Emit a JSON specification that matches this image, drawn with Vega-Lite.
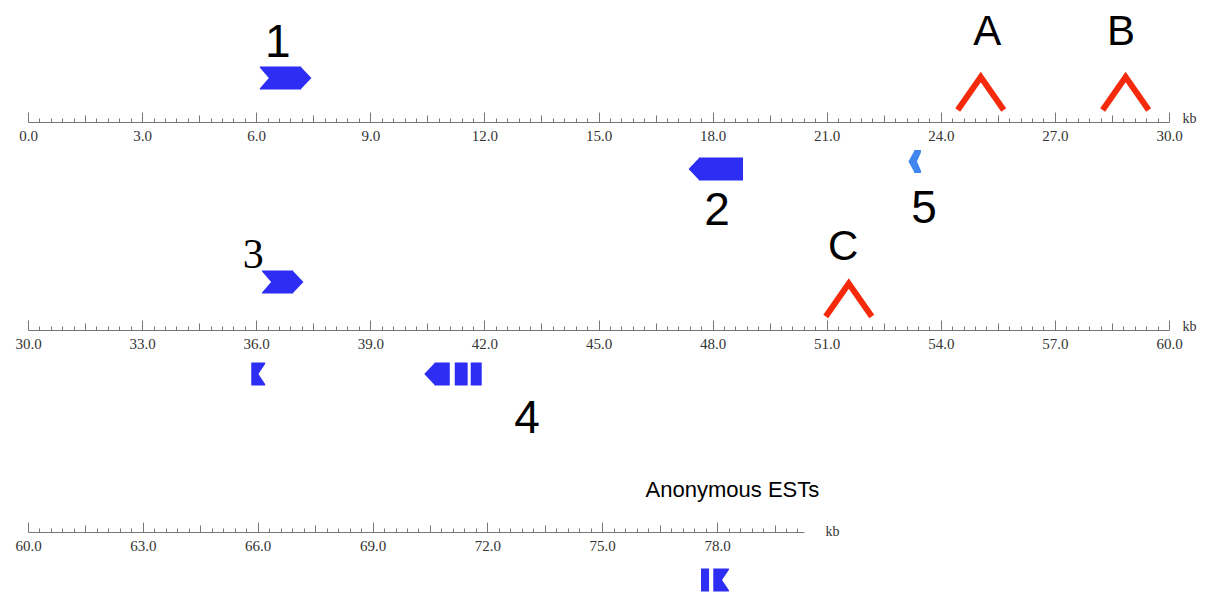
{
  "$schema": "https://vega.github.io/schema/vega-lite/v6.json",
  "background": "white",
  "padding": {"left": 14, "top": 0, "right": 5, "bottom": 0},
  "spacing": 10,
  "bounds": "flush",
  "config": {"view": {"stroke": null}, "font": "Liberation Sans"},
  "resolve": {"scale": {"x": "independent", "y": "independent", "color": "shared"}},
  "datasets": {
    "genes": [
      {"row": 1, "start": 6.09, "end": 7.18, "level": 44, "head": "right", "notch": "left", "kind": "gene"},
      {"row": 1, "start": 17.64, "end": 18.8, "level": -47, "head": "left", "notch": "none", "kind": "gene"},
      {"row": 1, "start": 23.3, "end": 23.48, "level": -39.5, "head": "left", "notch": "right", "kind": "partial"},
      {"row": 2, "start": 36.15, "end": 36.97, "level": 48, "head": "right", "notch": "left", "kind": "gene"},
      {"row": 2, "start": 35.87, "end": 36.24, "level": -44, "head": "none", "notch": "right", "kind": "gene"},
      {"row": 2, "start": 40.69, "end": 41.09, "level": -44, "head": "left", "notch": "none", "kind": "gene"},
      {"row": 2, "start": 41.22, "end": 41.56, "level": -44, "head": "none", "notch": "none", "kind": "gene"},
      {"row": 2, "start": 41.64, "end": 41.93, "level": -44, "head": "none", "notch": "none", "kind": "gene"},
      {"row": 3, "start": 77.58, "end": 77.79, "level": -48, "head": "none", "notch": "none", "kind": "gene"},
      {"row": 3, "start": 77.9, "end": 78.31, "level": -48, "head": "none", "notch": "right", "kind": "gene"}
    ],
    "sites": [
      {"row": 1, "pos": 25.05, "level": 28.5, "name": "A"},
      {"row": 1, "pos": 28.86, "level": 28.5, "name": "B"},
      {"row": 2, "pos": 51.58, "level": 30, "name": "C"}
    ],
    "labels": [
      {"row": 1, "pos": 6.57, "level": 65, "text": "1", "group": "gene"},
      {"row": 1, "pos": 25.22, "level": 77, "text": "A", "group": "site"},
      {"row": 1, "pos": 28.74, "level": 77, "text": "B", "group": "site"},
      {"row": 1, "pos": 18.12, "level": -103, "text": "2", "group": "gene"},
      {"row": 1, "pos": 23.56, "level": -101, "text": "5", "group": "gene"},
      {"row": 2, "pos": 51.43, "level": 70, "text": "C", "group": "site"},
      {"row": 2, "pos": 35.92, "level": 62, "text": "3", "group": "gene"},
      {"row": 2, "pos": 43.12, "level": -103, "text": "4", "group": "gene"},
      {"row": 3, "pos": 78.4, "level": 35, "text": "Anonymous ESTs", "group": "note"}
    ]
  },
  "vconcat": [
    {
      "width": 1141, "height": 122,
      "layer": [
        {"data": {"name": "genes"}, "transform": [{"filter": "datum.row === 1"}],
         "mark": {"type": "rect", "yOffset": -11.5, "y2Offset": 11.5},
         "encoding": {
           "x": {"field": "start", "type": "quantitative", "title": "kb",
                 "scale": {"domain": [0, 30], "nice": false, "zero": false},
                 "axis": {
                   "values": [0,0.3,0.6,0.9,1.2,1.5,1.8,2.1,2.4,2.7,3,3.3,3.6,3.9,4.2,4.5,4.8,5.1,5.4,5.7,6,6.3,6.6,6.9,7.2,7.5,7.8,8.1,8.4,8.7,9,9.3,9.6,9.9,10.2,10.5,10.8,11.1,11.4,11.7,12,12.3,12.6,12.9,13.2,13.5,13.8,14.1,14.4,14.7,15,15.3,15.6,15.9,16.2,16.5,16.8,17.1,17.4,17.7,18,18.3,18.6,18.9,19.2,19.5,19.8,20.1,20.4,20.7,21,21.3,21.6,21.9,22.2,22.5,22.8,23.1,23.4,23.7,24,24.3,24.6,24.9,25.2,25.5,25.8,26.1,26.4,26.7,27,27.3,27.6,27.9,28.2,28.5,28.8,29.1,29.4,29.7,30],
                   "tickCount": 500,
                   "title": "kb", "titleX": 1161, "titleY": 0, "titleAlign": "center", "titleBaseline": "alphabetic",
                   "titleFont": "Liberation Serif", "titleFontSize": 14, "titleFontWeight": "normal", "titleColor": "#333",
                   "domainColor": "#777", "domainWidth": 1, "tickColor": "#777", "tickWidth": 1, "grid": false,
                   "tickSize": {"condition": [{"test": "abs(datum.value/3 - round(datum.value/3)) < 0.001", "value": -10}, {"test": "abs(datum.value/1.5 - round(datum.value/1.5)) < 0.001", "value": -7}], "value": -4},
                   "labelExpr": "abs(datum.value/3 - round(datum.value/3)) < 0.001 ? format(datum.value, '.1f') : ''",
                   "labelFont": "Liberation Serif", "labelFontSize": 15, "labelColor": "#333", "labelPadding": 16,
                   "labelFlush": false, "labelOverlap": false, "labelBound": false
                 }},
           "x2": {"field": "end"},
           "y": {"field": "level", "type": "quantitative", "scale": {"domain": [0, 122], "nice": false, "zero": false}, "axis": null},
           "y2": {"field": "level"},
           "color": {"field": "kind", "type": "nominal", "scale": {"domain": ["gene", "partial"], "range": ["#2d2df4", "#3f86f0"]}, "legend": null}
         }},
        {"data": {"name": "genes"}, "transform": [{"filter": "datum.row === 1 && datum.head === 'right' && datum.kind === 'gene'"}],
         "mark": {"type": "point", "shape": "M-0.05,-1L0.9,0L-0.05,1Z", "size": 529, "filled": true, "opacity": 1, "strokeWidth": 0},
         "encoding": {"x": {"field": "end", "type": "quantitative", "title": "kb"}, "y": {"field": "level", "type": "quantitative"},
                      "color": {"field": "kind", "type": "nominal", "legend": null}}},
        {"data": {"name": "genes"}, "transform": [{"filter": "datum.row === 1 && datum.head === 'left' && datum.kind === 'gene'"}],
         "mark": {"type": "point", "shape": "M0.05,-1L-0.9,0L0.05,1Z", "size": 529, "filled": true, "opacity": 1, "strokeWidth": 0},
         "encoding": {"x": {"field": "start", "type": "quantitative", "title": "kb"}, "y": {"field": "level", "type": "quantitative"},
                      "color": {"field": "kind", "type": "nominal", "legend": null}}},
        {"data": {"name": "genes"}, "transform": [{"filter": "datum.row === 1 && datum.head === 'left' && datum.kind === 'partial'"}],
         "mark": {"type": "point", "shape": "M0.05,-1L-0.5,0L0.05,1Z", "size": 529, "filled": true, "opacity": 1, "strokeWidth": 0},
         "encoding": {"x": {"field": "start", "type": "quantitative", "title": "kb"}, "y": {"field": "level", "type": "quantitative"},
                      "color": {"field": "kind", "type": "nominal", "legend": null}}},
        {"data": {"name": "genes"}, "transform": [{"filter": "datum.row === 1 && datum.notch === 'left' && datum.kind === 'gene'"}],
         "mark": {"type": "point", "shape": "M-0.1,-1.05L0.8,0L-0.1,1.05Z", "size": 529, "filled": true, "opacity": 1, "strokeWidth": 0, "color": "white"},
         "encoding": {"x": {"field": "start", "type": "quantitative", "title": "kb"}, "y": {"field": "level", "type": "quantitative"}}},
        {"data": {"name": "genes"}, "transform": [{"filter": "datum.row === 1 && datum.notch === 'right' && datum.kind === 'partial'"}],
         "mark": {"type": "point", "shape": "M0.1,-1.05L-0.35,0L0.1,1.05Z", "size": 529, "filled": true, "opacity": 1, "strokeWidth": 0, "color": "white"},
         "encoding": {"x": {"field": "end", "type": "quantitative", "title": "kb"}, "y": {"field": "level", "type": "quantitative"}}},
        {"data": {"name": "sites"}, "transform": [{"filter": "datum.row === 1"}],
         "mark": {"type": "point", "shape": "M-1,0.72L0,-0.72L1,0.72", "size": 2116, "filled": false, "stroke": "#f52a0c", "strokeWidth": 6, "opacity": 1, "strokeCap": "butt", "strokeJoin": "miter"},
         "encoding": {"x": {"field": "pos", "type": "quantitative", "title": "kb"}, "y": {"field": "level", "type": "quantitative"}}},
        {"data": {"name": "labels"}, "transform": [{"filter": "datum.row === 1 && datum.group === 'site'"}],
         "mark": {"type": "text", "font": "Liberation Sans", "fontSize": 42, "baseline": "alphabetic", "align": "center", "color": "black"},
         "encoding": {"x": {"field": "pos", "type": "quantitative", "title": "kb"}, "y": {"field": "level", "type": "quantitative"},
                      "text": {"field": "text"}}},
        {"data": {"name": "labels"}, "transform": [{"filter": "datum.row === 1 && datum.group === 'gene'"}],
         "mark": {"type": "text", "font": "Liberation Sans", "fontSize": 46, "baseline": "alphabetic", "align": "center", "color": "black"},
         "encoding": {"x": {"field": "pos", "type": "quantitative", "title": "kb"}, "y": {"field": "level", "type": "quantitative"},
                      "text": {"field": "text"}}}
      ]
    },
    {
      "width": 1141, "height": 198,
      "layer": [
        {"data": {"name": "genes"}, "transform": [{"filter": "datum.row === 2"}],
         "mark": {"type": "rect", "yOffset": -11.5, "y2Offset": 11.5},
         "encoding": {
           "x": {"field": "start", "type": "quantitative", "title": "kb",
                 "scale": {"domain": [30, 60], "nice": false, "zero": false},
                 "axis": {
                   "values": [30,30.3,30.6,30.9,31.2,31.5,31.8,32.1,32.4,32.7,33,33.3,33.6,33.9,34.2,34.5,34.8,35.1,35.4,35.7,36,36.3,36.6,36.9,37.2,37.5,37.8,38.1,38.4,38.7,39,39.3,39.6,39.9,40.2,40.5,40.8,41.1,41.4,41.7,42,42.3,42.6,42.9,43.2,43.5,43.8,44.1,44.4,44.7,45,45.3,45.6,45.9,46.2,46.5,46.8,47.1,47.4,47.7,48,48.3,48.6,48.9,49.2,49.5,49.8,50.1,50.4,50.7,51,51.3,51.6,51.9,52.2,52.5,52.8,53.1,53.4,53.7,54,54.3,54.6,54.9,55.2,55.5,55.8,56.1,56.4,56.7,57,57.3,57.6,57.9,58.2,58.5,58.8,59.1,59.4,59.7,60],
                   "tickCount": 500,
                   "title": "kb", "titleX": 1161, "titleY": 0, "titleAlign": "center", "titleBaseline": "alphabetic",
                   "titleFont": "Liberation Serif", "titleFontSize": 14, "titleFontWeight": "normal", "titleColor": "#333",
                   "domainColor": "#777", "domainWidth": 1, "tickColor": "#777", "tickWidth": 1, "grid": false,
                   "tickSize": {"condition": [{"test": "abs(datum.value/3 - round(datum.value/3)) < 0.001", "value": -10}, {"test": "abs(datum.value/1.5 - round(datum.value/1.5)) < 0.001", "value": -7}], "value": -4},
                   "labelExpr": "abs(datum.value/3 - round(datum.value/3)) < 0.001 ? format(datum.value, '.1f') : ''",
                   "labelFont": "Liberation Serif", "labelFontSize": 15, "labelColor": "#333", "labelPadding": 16,
                   "labelFlush": false, "labelOverlap": false, "labelBound": false
                 }},
           "x2": {"field": "end"},
           "y": {"field": "level", "type": "quantitative", "scale": {"domain": [0, 198], "nice": false, "zero": false}, "axis": null},
           "y2": {"field": "level"},
           "color": {"field": "kind", "type": "nominal", "scale": {"domain": ["gene", "partial"], "range": ["#2d2df4", "#3f86f0"]}, "legend": null}
         }},
        {"data": {"name": "genes"}, "transform": [{"filter": "datum.row === 2 && datum.head === 'right'"}],
         "mark": {"type": "point", "shape": "M-0.05,-1L0.9,0L-0.05,1Z", "size": 529, "filled": true, "opacity": 1, "strokeWidth": 0},
         "encoding": {"x": {"field": "end", "type": "quantitative", "title": "kb"}, "y": {"field": "level", "type": "quantitative"},
                      "color": {"field": "kind", "type": "nominal", "legend": null}}},
        {"data": {"name": "genes"}, "transform": [{"filter": "datum.row === 2 && datum.head === 'left'"}],
         "mark": {"type": "point", "shape": "M0.05,-1L-0.9,0L0.05,1Z", "size": 529, "filled": true, "opacity": 1, "strokeWidth": 0},
         "encoding": {"x": {"field": "start", "type": "quantitative", "title": "kb"}, "y": {"field": "level", "type": "quantitative"},
                      "color": {"field": "kind", "type": "nominal", "legend": null}}},
        {"data": {"name": "genes"}, "transform": [{"filter": "datum.row === 2 && datum.notch === 'left'"}],
         "mark": {"type": "point", "shape": "M-0.1,-1.05L0.8,0L-0.1,1.05Z", "size": 529, "filled": true, "opacity": 1, "strokeWidth": 0, "color": "white"},
         "encoding": {"x": {"field": "start", "type": "quantitative", "title": "kb"}, "y": {"field": "level", "type": "quantitative"}}},
        {"data": {"name": "genes"}, "transform": [{"filter": "datum.row === 2 && datum.notch === 'right'"}],
         "mark": {"type": "point", "shape": "M0.1,-1.05L-0.6,0L0.1,1.05Z", "size": 529, "filled": true, "opacity": 1, "strokeWidth": 0, "color": "white"},
         "encoding": {"x": {"field": "end", "type": "quantitative", "title": "kb"}, "y": {"field": "level", "type": "quantitative"}}},
        {"data": {"name": "sites"}, "transform": [{"filter": "datum.row === 2"}],
         "mark": {"type": "point", "shape": "M-1,0.72L0,-0.72L1,0.72", "size": 2116, "filled": false, "stroke": "#f52a0c", "strokeWidth": 6, "opacity": 1, "strokeCap": "butt", "strokeJoin": "miter"},
         "encoding": {"x": {"field": "pos", "type": "quantitative", "title": "kb"}, "y": {"field": "level", "type": "quantitative"}}},
        {"data": {"name": "labels"}, "transform": [{"filter": "datum.row === 2 && datum.group === 'site'"}],
         "mark": {"type": "text", "font": "Liberation Sans", "fontSize": 42, "baseline": "alphabetic", "align": "center", "color": "black"},
         "encoding": {"x": {"field": "pos", "type": "quantitative", "title": "kb"}, "y": {"field": "level", "type": "quantitative"},
                      "text": {"field": "text"}}},
        {"data": {"name": "labels"}, "transform": [{"filter": "datum.row === 2 && datum.group === 'gene' && datum.text !== '3'"}],
         "mark": {"type": "text", "font": "Liberation Sans", "fontSize": 46, "baseline": "alphabetic", "align": "center", "color": "black"},
         "encoding": {"x": {"field": "pos", "type": "quantitative", "title": "kb"}, "y": {"field": "level", "type": "quantitative"},
                      "text": {"field": "text"}}},
        {"data": {"name": "labels"}, "transform": [{"filter": "datum.row === 2 && datum.text === '3'"}],
         "mark": {"type": "text", "font": "Liberation Serif", "fontSize": 42, "baseline": "alphabetic", "align": "center", "color": "black"},
         "encoding": {"x": {"field": "pos", "type": "quantitative", "title": "kb"}, "y": {"field": "level", "type": "quantitative"},
                      "text": {"field": "text"}}}
      ]
    },
    {
      "width": 776, "height": 192,
      "layer": [
        {"data": {"name": "genes"}, "transform": [{"filter": "datum.row === 3"}],
         "mark": {"type": "rect", "yOffset": -11.5, "y2Offset": 11.5},
         "encoding": {
           "x": {"field": "start", "type": "quantitative", "title": "kb",
                 "scale": {"domain": [60, 80.27], "nice": false, "zero": false},
                 "axis": {
                   "values": [60,60.3,60.6,60.9,61.2,61.5,61.8,62.1,62.4,62.7,63,63.3,63.6,63.9,64.2,64.5,64.8,65.1,65.4,65.7,66,66.3,66.6,66.9,67.2,67.5,67.8,68.1,68.4,68.7,69,69.3,69.6,69.9,70.2,70.5,70.8,71.1,71.4,71.7,72,72.3,72.6,72.9,73.2,73.5,73.8,74.1,74.4,74.7,75,75.3,75.6,75.9,76.2,76.5,76.8,77.1,77.4,77.7,78,78.3,78.6,78.9,79.2,79.5,79.8,80.1],
                   "tickCount": 500,
                   "title": "kb", "titleX": 804, "titleY": 3, "titleAlign": "center", "titleBaseline": "alphabetic",
                   "titleFont": "Liberation Serif", "titleFontSize": 14, "titleFontWeight": "normal", "titleColor": "#333",
                   "domainColor": "#777", "domainWidth": 1, "tickColor": "#777", "tickWidth": 1, "grid": false,
                   "tickSize": {"condition": [{"test": "abs(datum.value/3 - round(datum.value/3)) < 0.001", "value": -10}, {"test": "abs(datum.value/1.5 - round(datum.value/1.5)) < 0.001", "value": -7}], "value": -4},
                   "labelExpr": "abs(datum.value/3 - round(datum.value/3)) < 0.001 ? format(datum.value, '.1f') : ''",
                   "labelFont": "Liberation Serif", "labelFontSize": 15, "labelColor": "#333", "labelPadding": 16,
                   "labelFlush": false, "labelOverlap": false, "labelBound": false
                 }},
           "x2": {"field": "end"},
           "y": {"field": "level", "type": "quantitative", "scale": {"domain": [0, 192], "nice": false, "zero": false}, "axis": null},
           "y2": {"field": "level"},
           "color": {"field": "kind", "type": "nominal", "scale": {"domain": ["gene", "partial"], "range": ["#2d2df4", "#3f86f0"]}, "legend": null}
         }},
        {"data": {"name": "genes"}, "transform": [{"filter": "datum.row === 3 && datum.notch === 'right'"}],
         "mark": {"type": "point", "shape": "M0.1,-1.05L-0.6,0L0.1,1.05Z", "size": 529, "filled": true, "opacity": 1, "strokeWidth": 0, "color": "white"},
         "encoding": {"x": {"field": "end", "type": "quantitative", "title": "kb"}, "y": {"field": "level", "type": "quantitative"}}},
        {"data": {"name": "labels"}, "transform": [{"filter": "datum.row === 3"}],
         "mark": {"type": "text", "font": "Liberation Sans", "fontSize": 22, "baseline": "alphabetic", "align": "center", "color": "black"},
         "encoding": {"x": {"field": "pos", "type": "quantitative", "title": "kb"}, "y": {"field": "level", "type": "quantitative"},
                      "text": {"field": "text"}}}
      ]
    }
  ]
}
